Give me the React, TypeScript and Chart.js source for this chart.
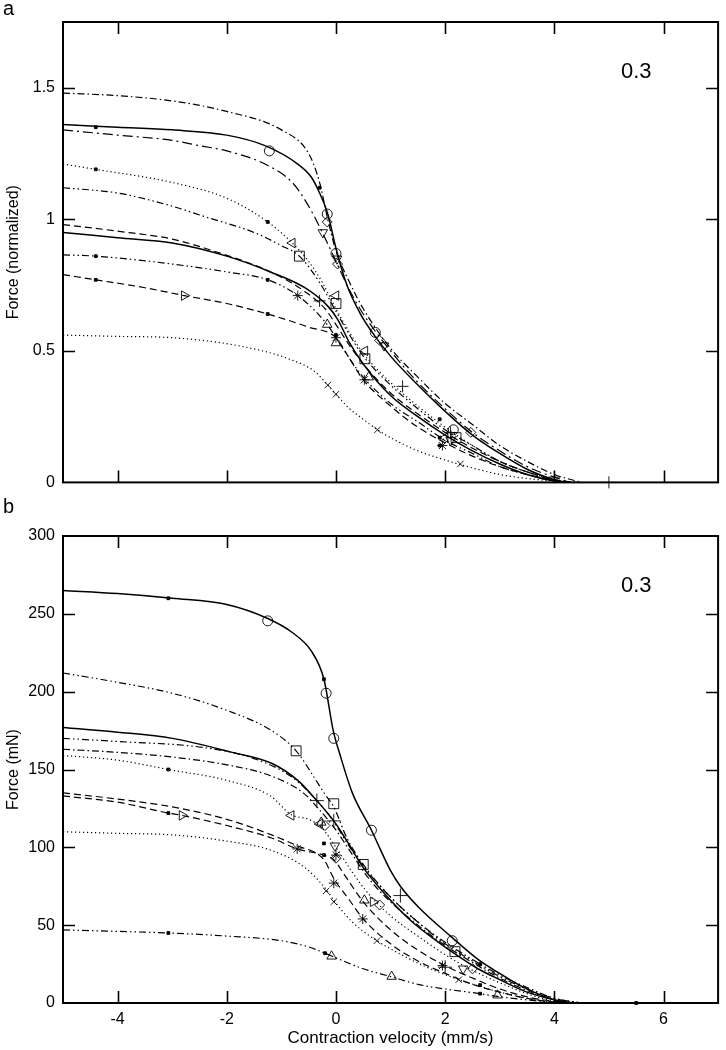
import React, { useEffect, useRef } from 'react';
import { Chart, registerables } from 'chart.js';

Chart.register(...registerables);

type P = [number, number];

// ---- axes ----
const xTicks = [-4, -2, 0, 2, 4, 6];
const yTicksA = [0, 0.5, 1, 1.5];
const yTicksB = [0, 50, 100, 150, 200, 250, 300];

// ---- panel a curves (velocity mm/s, normalized force) ----
const a1: P[] = [[-5,1.48],[-4,1.47],[-3,1.45],[-2,1.41],[-1,1.34],[-0.5,1.25],[-0.3,1.14],[-0.15,1.0],[0,0.88],[0.25,0.76],[0.5,0.66],[1,0.51],[1.5,0.40],[2,0.30],[2.5,0.22],[3,0.14],[3.5,0.08],[4,0.03],[4.5,0]];
const a2: P[] = [[-5,1.36],[-4,1.35],[-3,1.34],[-2,1.32],[-1.3,1.28],[-0.7,1.21],[-0.45,1.16],[-0.3,1.10],[-0.15,1.02],[0,0.89],[0.2,0.75],[0.45,0.64],[0.7,0.56],[1,0.48],[1.5,0.37],[2,0.27],[2.5,0.18],[3,0.11],[3.5,0.05],[4,0.01],[4.2,0]];
const a3: P[] = [[-5,1.34],[-4,1.32],[-3,1.30],[-2.5,1.28],[-2,1.26],[-1.3,1.21],[-0.8,1.14],[-0.5,1.05],[-0.25,0.95],[0,0.84],[0.25,0.73],[0.5,0.64],[1,0.50],[1.5,0.38],[2,0.28],[2.5,0.19],[3,0.12],[3.5,0.06],[4,0.02],[4.3,0]];
const a4: P[] = [[-5,1.21],[-4.4,1.19],[-3,1.14],[-2,1.08],[-1.25,0.99],[-0.8,0.91],[-0.5,0.84],[-0.25,0.76],[0,0.66],[0.25,0.57],[0.5,0.49],[1,0.38],[1.5,0.29],[2,0.21],[2.5,0.14],[3,0.08],[3.5,0.04],[4,0.01],[4.3,0]];
const a5: P[] = [[-5,1.12],[-4,1.10],[-3,1.05],[-2.4,1.01],[-1.5,0.95],[-1,0.90],[-0.67,0.86],[-0.3,0.76],[0,0.65],[0.25,0.56],[0.5,0.48],[1,0.37],[1.5,0.28],[2,0.20],[2.5,0.14],[3,0.08],[3.5,0.04],[4,0.01],[4.4,0]];
const a6: P[] = [[-5,0.98],[-4,0.955],[-3,0.925],[-2.4,0.89],[-1.2,0.80],[-0.6,0.73],[-0.2,0.66],[0,0.60],[0.25,0.52],[0.5,0.45],[1,0.34],[1.5,0.26],[2,0.19],[2.5,0.13],[3,0.08],[3.5,0.04],[4,0.01],[4.3,0]];
const a7: P[] = [[-5,0.95],[-4,0.93],[-3,0.91],[-2,0.86],[-1.2,0.80],[-0.57,0.74],[-0.15,0.67],[0.03,0.62],[0.25,0.53],[0.5,0.45],[1,0.33],[1.5,0.25],[2,0.18],[2.5,0.12],[3,0.07],[3.5,0.03],[4,0.005],[4.2,0]];
const a8: P[] = [[-5,0.865],[-4.4,0.86],[-3,0.83],[-2,0.80],[-1.25,0.77],[-0.7,0.71],[-0.16,0.60],[0,0.55],[0.25,0.47],[0.5,0.40],[1,0.30],[1.5,0.23],[2,0.16],[2.5,0.11],[3,0.06],[3.5,0.03],[4,0.005],[4.3,0]];
const a9: P[] = [[-5,0.79],[-4.4,0.77],[-3.5,0.74],[-2.78,0.71],[-2,0.68],[-1.25,0.64],[-0.5,0.59],[0,0.55],[0.25,0.47],[0.5,0.39],[1,0.29],[1.5,0.21],[2,0.15],[2.5,0.10],[3,0.06],[3.5,0.03],[4,0.01],[4.3,0]];
const a10: P[] = [[-5,0.56],[-4,0.555],[-3,0.55],[-1.8,0.52],[-0.87,0.47],[-0.38,0.42],[-0.15,0.37],[0,0.335],[0.25,0.28],[0.5,0.24],[0.76,0.20],[1,0.17],[1.5,0.12],[2,0.085],[2.5,0.055],[3,0.03],[3.5,0.015],[4,0.005],[4.4,0]];

// ---- panel a markers ----
const aFilled: P[] = [[-4.4,1.35],[-4.4,1.19],[-4.4,0.86],[-4.4,0.77],[-1.25,0.99],[-1.25,0.77],[-1.25,0.64],[-0.3,1.12],[1.9,0.24],[1.9,0.17],[1.9,0.14],[0,0.56]];
const aCircle: P[] = [[-1.22,1.26],[-0.16,1.02],[0,0.87],[0.72,0.57],[2.15,0.20]];
const aDiamond: P[] = [[-0.16,0.99],[0.03,0.83],[0.8,0.54],[2.47,0.19]];
const aTriDown: P[] = [[-0.24,0.95],[0.02,0.85],[0.88,0.52],[2.1,0.16]];
const aTriLeft: P[] = [[-0.8,0.91],[0,0.71],[0.53,0.50],[2.0,0.17]];
const aSquare: P[] = [[-0.67,0.86],[0,0.68],[0.53,0.47],[2.2,0.17]];
const aPlus: P[] = [[-0.3,0.69],[1.22,0.365],[2.1,0.19],[4.0,0.02],[5.0,0]];
const aStar: P[] = [[-0.7,0.71],[0,0.55],[0.52,0.39],[1.95,0.14]];
const aTriUp: P[] = [[-0.16,0.60],[0,0.53],[0.6,0.40]];
const aTriRight: P[] = [[-2.78,0.71]];
const aCrossX: P[] = [[-0.15,0.37],[0,0.335],[0.76,0.20],[2.28,0.07]];

// ---- panel b curves (velocity mm/s, force mN) ----
const b1: P[] = [[-5,265],[-4,263],[-3,260],[-2,256],[-1.25,247],[-0.8,238],[-0.45,226],[-0.22,208],[-0.05,175],[0.07,160],[0.3,135],[0.65,111],[1,85],[1.18,75],[1.5,62],[2.13,42],[2.64,27],[3,19],[3.44,10],[4,2],[4.3,0]];
const b2: P[] = [[-5,212],[-4,206],[-3,199],[-2,188],[-1.18,175],[-0.73,162],[-0.4,145],[-0.2,134],[-0.04,126],[0.2,106],[0.5,89],[1,68],[1.5,52],[2,38],[2.5,27],[3,17],[3.5,9],[4,3],[4.5,0]];
const b3: P[] = [[-5,177],[-4,174],[-3,170],[-1.9,161],[-1.18,154],[-0.7,143],[-0.35,130],[-0.02,116],[0.22,103],[0.5,87],[0.95,68],[1.4,52],[1.8,41],[2.2,31],[2.6,22],[3,15],[3.5,7],[4,2],[4.3,0]];
const b4: P[] = [[-5,170],[-4,168],[-2.4,164],[-1.5,157],[-0.8,145],[-0.35,130],[-0.05,117],[0.2,103],[0.5,88],[1,68],[1.5,52],[2,39],[2.5,28],[3,18],[3.5,10],[4,3],[4.5,0]];
const b5: P[] = [[-5,163],[-4,161],[-3,158],[-2,153],[-1.2,146],[-0.6,135],[-0.3,124],[-0.04,113],[0.25,98],[0.6,80],[1,65],[1.5,50],[2,37],[2.5,26],[3,16],[3.5,8],[4,2],[4.4,0]];
const b6: P[] = [[-5,159],[-4,156],[-3.07,150],[-2,143],[-1.2,133],[-0.82,121],[-0.5,118],[-0.27,113],[0,100],[0.3,84],[0.6,70],[1,56],[1.5,43],[2,31],[2.5,21],[3,13],[3.5,6],[4,1],[4.3,0]];
const b7: P[] = [[-5,135],[-4,131],[-3,126],[-2,118],[-1.18,108],[-0.71,101],[-0.22,92],[-0.04,80],[0.25,66],[0.5,54],[1,38],[1.5,27],[2,19],[2.5,12],[3,7],[3.5,3],[4,0.5],[4.3,0]];
const b8: P[] = [[-5,133],[-4,129],[-3.07,122],[-2.82,120.5],[-2,114],[-1.18,106],[-0.71,99],[-0.22,95],[-0.04,92],[0.2,80],[0.5,65],[1,47],[1.5,34],[2,24],[2.64,14],[3,9],[3.5,4],[4,1],[4.3,0]];
const b9: P[] = [[-5,110],[-4,109],[-3,108],[-2,104],[-1.18,98],[-0.57,87],[-0.18,73],[-0.04,66],[0.3,52],[0.75,40],[1.2,31],[1.6,24],[2.25,15],[2.7,10],[3,7],[3.5,3],[4,0.5],[4.3,0]];
const b10: P[] = [[-5,47],[-4,46],[-3.07,45],[-2,43],[-1,40],[-0.5,36],[-0.2,32],[0,29],[0.5,22],[1,17],[1.5,12],[2,9],[2.64,6],[3,4],[3.5,2],[4,0.5],[4.5,0]];

// ---- panel b markers ----
const bFilled: P[] = [[-3.07,260],[-0.22,208],[-3.07,150],[-3.07,122],[-3.07,45],[-0.22,102.5],[-0.22,95],[-0.2,32],[2.64,25],[2.64,11.5],[2.64,6],[5.5,0]];
const bCircle: P[] = [[-1.25,245.5],[-0.18,199],[-0.04,170],[0.65,111],[2.13,40]];
const bSquare: P[] = [[-0.73,162],[-0.04,128],[0.5,89],[2.18,33]];
const bPlus: P[] = [[-0.35,130],[-0.04,117],[1.18,69],[2.0,23]];
const bTriLeft: P[] = [[-0.82,120.5],[-0.3,115]];
const bTriDown: P[] = [[-0.02,101],[2.33,22]];
const bDiamond: P[] = [[-0.2,114],[0,93],[0.8,63],[2.5,22]];
const bTriUp: P[] = [[-0.27,116],[0.52,66],[1.02,17],[2.96,5],[-0.08,30]];
const bTriRight: P[] = [[-2.82,120.5],[0.68,65]];
const bStar: P[] = [[-0.71,99],[-0.04,77],[0.49,54],[0,95],[1.95,24]];
const bCrossX: P[] = [[-0.18,72],[-0.04,65],[0.75,40],[2.25,15]];

// ---- styles ----
const SOLID: number[] = [];
const DASH = [7, 4];
const DOT = [1.2, 2.8];
const DASHDOT = [7, 3, 1.5, 3];
const LONGDASHDOT = [10, 4, 2, 4];
const DASHDOTDOT = [7, 3, 1.5, 3, 1.5, 3];

const FONT = '"Liberation Sans", Arial, sans-serif';

const toXY = (pts: P[]) => pts.map(([x, y]) => ({ x, y }));

function curve(pts: P[], dash: number[], width = 1.2) {
  return {
    type: 'line' as const,
    data: toXY(pts),
    borderColor: '#000',
    borderWidth: width,
    borderDash: dash,
    pointRadius: 0,
    cubicInterpolationMode: 'monotone' as const,
    fill: false,
    order: 2,
  };
}

function marks(pts: P[], style: string, radius: number, rotation = 0, filled = false) {
  return {
    type: 'line' as const,
    data: toXY(pts),
    showLine: false,
    pointStyle: style,
    pointRadius: radius,
    pointRotation: rotation,
    pointBorderColor: '#000',
    pointBackgroundColor: filled ? '#000' : 'rgba(0,0,0,0)',
    pointBorderWidth: 0.9,
    order: 1,
    clip: false,
  };
}

const framePlugin = {
  id: 'frame',
  afterDraw(chart: any, _args: any, opts: any) {
    const { ctx, chartArea } = chart;
    const { left, right, top, bottom } = chartArea;
    const xs = chart.scales.x;
    const ys = chart.scales.y;
    ctx.save();
    ctx.strokeStyle = '#000';
    ctx.setLineDash([]);
    ctx.lineWidth = 2;
    ctx.strokeRect(left, top, right - left, bottom - top);
    ctx.lineWidth = 1.6;
    const L = 12;
    ctx.beginPath();
    xTicks.forEach((v) => {
      const px = Math.round(xs.getPixelForValue(v)) + 0.5;
      ctx.moveTo(px, bottom); ctx.lineTo(px, bottom - L);
      ctx.moveTo(px, top); ctx.lineTo(px, top + L);
    });
    (opts.yTicks as number[]).forEach((v) => {
      const py = Math.round(ys.getPixelForValue(v)) + 0.5;
      if (py > bottom - 2 || py < top + 2) return;
      ctx.moveTo(left, py); ctx.lineTo(left + L, py);
      ctx.moveTo(right, py); ctx.lineTo(right - L, py);
    });
    ctx.stroke();
    ctx.fillStyle = '#000';
    ctx.font = `22px ${FONT}`;
    ctx.textAlign = 'center';
    ctx.textBaseline = 'middle';
    ctx.fillText(opts.label, xs.getPixelForValue(5.5), top + opts.labelDy);
    ctx.restore();
  },
};

function makeConfig(panel: 'a' | 'b'): any {
  const isA = panel === 'a';
  const datasets = isA
    ? [
        marks(aFilled, 'rect', 2, 0, true),
        marks(aCircle, 'circle', 5),
        marks(aDiamond, 'rectRot', 5),
        marks(aTriDown, 'triangle', 5.5, 180),
        marks(aTriLeft, 'triangle', 5.5, -90),
        marks(aSquare, 'rect', 7),
        marks(aPlus, 'cross', 6),
        marks(aStar, 'star', 5),
        marks(aTriUp, 'triangle', 5.5),
        marks(aTriRight, 'triangle', 5.5, 90),
        marks(aCrossX, 'crossRot', 4.5),
        curve(a1, DASHDOT),
        curve(a2, SOLID, 1.5),
        curve(a3, LONGDASHDOT),
        curve(a4, DOT),
        curve(a5, DASHDOTDOT),
        curve(a6, DASH),
        curve(a7, SOLID, 1.5),
        curve(a8, DASHDOTDOT),
        curve(a9, DASH),
        curve(a10, DOT),
      ]
    : [
        marks(bFilled, 'rect', 2, 0, true),
        marks(bCircle, 'circle', 5),
        marks(bSquare, 'rect', 7),
        marks(bPlus, 'cross', 7),
        marks(bTriLeft, 'triangle', 5.5, -90),
        marks(bTriDown, 'triangle', 5.5, 180),
        marks(bDiamond, 'rectRot', 5),
        marks(bTriUp, 'triangle', 5.5),
        marks(bTriRight, 'triangle', 5.5, 90),
        marks(bStar, 'star', 5),
        marks(bCrossX, 'crossRot', 4.5),
        curve(b1, SOLID, 1.5),
        curve(b2, DASHDOTDOT),
        curve(b3, SOLID, 1.5),
        curve(b4, DASHDOTDOT),
        curve(b5, DASHDOT),
        curve(b6, DOT),
        curve(b7, DASH),
        curve(b8, DASH),
        curve(b9, DOT),
        curve(b10, DASHDOTDOT),
      ];
  const yTicks = isA ? yTicksA : yTicksB;
  return {
    type: 'line',
    data: { datasets },
    plugins: [framePlugin],
    options: {
      animation: false,
      responsive: true,
      maintainAspectRatio: false,
      events: [],
      layout: { padding: { top: isA ? 22 : 36, right: 3, left: 0, bottom: 0 } },
      plugins: {
        legend: { display: false },
        tooltip: { enabled: false },
        frame: { yTicks, label: '0.3', labelDy: isA ? 50 : 50 },
      },
      scales: {
        x: {
          type: 'linear',
          min: -5,
          max: 7,
          grid: { display: false, drawTicks: false },
          border: { display: false },
          afterBuildTicks: (s: any) => { s.ticks = xTicks.map((v) => ({ value: v })); },
          afterFit: (s: any) => { s.height = isA ? 14 : 47; },
          ticks: {
            display: !isA,
            padding: 7,
            color: '#000',
            font: { family: FONT, size: 16 },
            callback: (v: any) => String(v),
          },
          title: {
            display: !isA,
            text: 'Contraction velocity (mm/s)',
            color: '#000',
            font: { family: FONT, size: 17 },
            padding: { top: 0, bottom: 1 },
          },
        },
        y: {
          type: 'linear',
          min: 0,
          max: isA ? 1.75 : 300,
          grid: { display: false, drawTicks: false },
          border: { display: false },
          afterBuildTicks: (s: any) => { s.ticks = yTicks.map((v) => ({ value: v })); },
          afterFit: (s: any) => { s.width = 63; },
          ticks: {
            padding: 8,
            color: '#000',
            font: { family: FONT, size: 16 },
            callback: (v: any) => String(v),
          },
          title: {
            display: true,
            text: isA ? 'Force (normalized)' : 'Force (mN)',
            color: '#000',
            font: { family: FONT, size: 16 },
            padding: { top: 4, bottom: 0 },
          },
        },
      },
    },
  };
}

function Panel({ panel, top, height }: { panel: 'a' | 'b'; top: number; height: number }) {
  const ref = useRef<HTMLCanvasElement | null>(null);
  useEffect(() => {
    if (!ref.current) return;
    const chart = new Chart(ref.current, makeConfig(panel));
    return () => chart.destroy();
  }, [panel]);
  return (
    <div style={{ position: 'absolute', left: 0, top, width: 726, height }}>
      <canvas ref={ref} />
    </div>
  );
}

export default function App() {
  const labelStyle: React.CSSProperties = {
    position: 'absolute',
    left: 3,
    fontFamily: FONT,
    fontSize: 20,
    lineHeight: '20px',
    color: '#000',
  };
  return (
    <div style={{ position: 'absolute', left: 0, top: 0, width: 726, height: 1050, background: '#fff' }}>
      <Panel panel="a" top={0} height={500} />
      <Panel panel="b" top={500} height={550} />
      <div style={{ ...labelStyle, top: -2 }}>a</div>
      <div style={{ ...labelStyle, top: 496 }}>b</div>
    </div>
  );
}
